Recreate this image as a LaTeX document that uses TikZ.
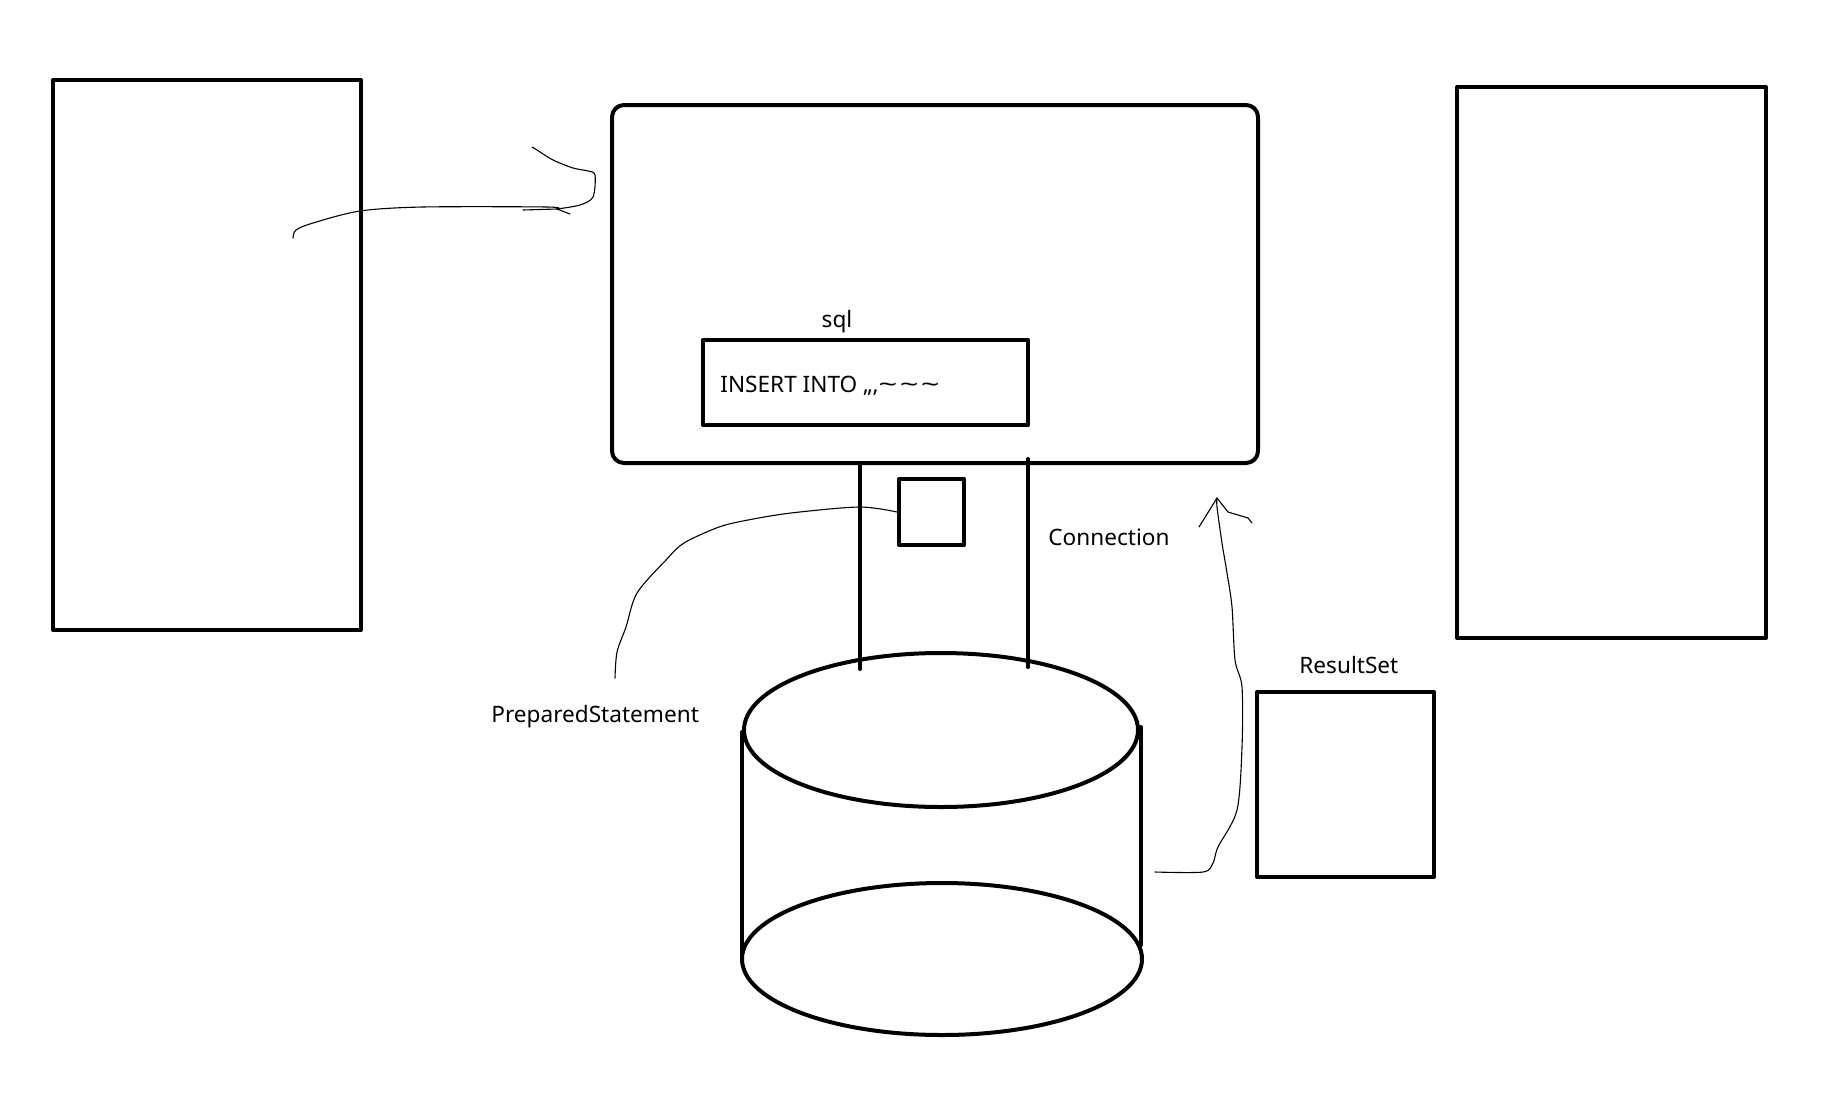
\documentclass[tikz,border=0pt]{standalone}
\usepackage{fontspec}
\usepackage{graphicx}
\setmainfont{Noto Sans}
\newcommand{\wtilde}{\scalebox{1.45}[1]{\textasciitilde}}
\begin{document}
\begin{tikzpicture}[x=.5pt,y=-.5pt,line cap=round,line join=round,
  box/.style={draw,line width=2pt,inner sep=0pt},
  pen/.style={line width=.55pt},
  lbl/.style={inner sep=0pt,font=\fontsize{11.3}{13}\selectfont}]
  \useasboundingbox (0,0) rectangle (1846,1114);
  \node[box,minimum width=154pt,minimum height=275pt] (client) at (207,355) {};
  \node[box,rounded corners=6pt,minimum width=323pt,minimum height=179pt] (server) at (935,284) {};
  \node[box,minimum width=154.5pt,minimum height=275.5pt] (db) at (1611.5,362.5) {};
  \node[box,minimum width=162.5pt,minimum height=42.5pt] (sqlbox) at (865.5,382.5) {};
  \node[lbl,anchor=base west] (query) at (720,392) {INSERT INTO ,,,\wtilde\hspace{1.2pt}\wtilde\hspace{1.2pt}\wtilde};
  \node[lbl,anchor=base] (sql) at (837,327) {sql};
  \node[box,minimum width=32.5pt,minimum height=33pt] (stmt) at (931.5,512) {};
  \node[box,minimum width=88.5pt,minimum height=92.5pt] (rs) at (1345.5,784.5) {};
  \node[lbl,anchor=base west] (rslbl) at (1299,673) {ResultSet};
  \node[lbl,anchor=base west] (conn) at (1048,545) {Connection};
  \node[lbl,anchor=base west] (pslbl) at (491,722) {PreparedStatement};
  % connection
  \coordinate (c1) at (860,669);
  \coordinate (c2) at (1028,667);
  \draw[line width=2pt] (860,464) -- (c1);
  \draw[line width=2pt] (1028,459) -- (c2);
  % database
  \draw[line width=2pt] (941,730) ellipse [x radius=197,y radius=77];
  \draw[line width=2pt] (942,959) ellipse [x radius=200,y radius=76];
  \draw[line width=2pt] (742,732) -- (742,957);
  \draw[line width=2pt] (1141,727) -- (1141,945);
  % hand drawn arrows
  \coordinate (a0) at (293,238);
  \coordinate (a1) at (557,209);
  \draw[pen] plot[smooth,tension=.5] coordinates {(a0) (296,230) (313,223) (360,211) (423,207) (547,207) (a1)};
  \draw[pen] (523,210) -- (a1) -- (570,214);
  \draw[pen] plot[smooth,tension=.5] coordinates {(a1) (580,205) (593,197) (595,175) (588,171) (573,168) (553,160) (537,150) (532,147)};
  \coordinate (p0) at (615,678);
  \draw[pen] plot[smooth,tension=.5] coordinates {(p0) (617,652) (626,627) (637,593) (666,560) (684,543) (719,527) (748,520) (791,513) (859,507) (stmt.west)};
  \coordinate (r0) at (1155,872);
  \coordinate (r1) at (1217,498);
  \draw[pen] plot[smooth,tension=.5] coordinates {(r0) (1203,872) (1213,863) (1218,847) (1237,810) (1242,747) (1242,687) (1235,660) (1232,607) (1227,573) (1222,543) (1217,507) (r1)};
  \draw[pen] (1199,527) -- (r1) -- (1228,512) -- (1248,518) -- (1252,523);
\end{tikzpicture}
\end{document}
